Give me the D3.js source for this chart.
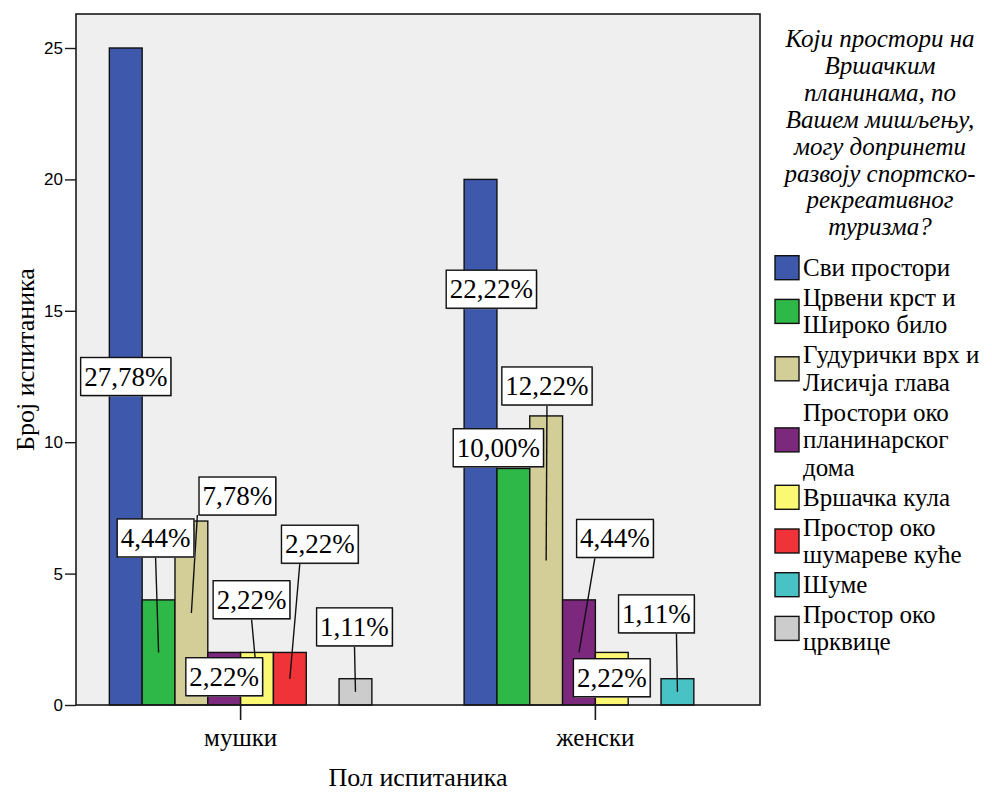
<!DOCTYPE html>
<html><head><meta charset="utf-8">
<script src="https://cdn.jsdelivr.net/npm/d3@7"></script>
<style>body{margin:0;background:#fff}</style>
</head><body><svg id="c" width="992" height="792"></svg>
<script>
// ---- data ----
const groups = ["мушки", "женски"];
const series = ["Сви простори", "Црвени крст и Широко било", "Гудурички врх и Лисичја глава",
  "Простори око планинарског дома", "Вршачка кула", "Простор око шумареве куће", "Шуме", "Простор око црквице"];
const legendLines = [["Сви простори"], ["Црвени крст и", "Широко било"], ["Гудурички врх и", "Лисичја глава"],
  ["Простори око", "планинарског", "дома"], ["Вршачка кула"], ["Простор око", "шумареве куће"], ["Шуме"], ["Простор око", "црквице"]];
const maleCounts = [25, 4, 7, 2, 2, 2, 0, 1];
const femaleCounts = [20, 9, 11, 4, 2, 0, 1, 0];
const yTicks = [0, 5, 10, 15, 20, 25];
const legendTitle = ["Који простори на", "Вршачким", "планинама, по", "Вашем мишљењу,", "могу допринети", "развоју спортско-", "рекреативног", "туризма?"];
const xTitle = "Пол испитаника";
const yTitle = "Број испитаника";

// ---- styles / layout ----
const colors = ["#3E58AC", "#2EB848", "#D3CE97", "#7B287D", "#FBF873", "#EF3338", "#48C2C5", "#CCCCCC"];
// label box offsets from bar middle [dx, dy, leaderAnchorX or null]
const labelLayout = [
  [[0, 0, null], [-3, -114.5, 0], [46, -117, -40], [0, -2, null], [-5.5, -79, 0], [30, -134.5, -20], null, [-1, -65, 0]],
  [[10.8, -153, null], [-15, -139, null], [0.8, -174.5, 0], [36, -114, -20], [0, -1, null], null, [-21, -78, 20], null]
];

const counts = [maleCounts, femaleCounts];
const total = d3.sum(maleCounts) + d3.sum(femaleCounts);
const pct = v => d3.format(".2f")(v / total * 100).replace(".", ",") + "%";

const L = 76, R = 760, T = 14, B = 705;
const SERIF = '"Liberation Serif"';
const SANS = '"Liberation Sans"';

const svg = d3.select("#c");
const x0 = d3.scaleBand().domain(groups).range([L, R]).paddingInner(0.26).paddingOuter(0.094);
const x1 = d3.scaleBand().domain(d3.range(series.length)).range([0, x0.bandwidth()]).padding(0);
const y = d3.scaleLinear().domain([0, 25 * (B - T) / (B - 48)]).range([B, T]);

// plot background
svg.append("rect").attr("x", L).attr("y", T).attr("width", R - L).attr("height", B - T)
  .attr("fill", "#EFEFEF");

// bars
const gBars = svg.append("g");
groups.forEach((g, gi) => {
  gBars.selectAll(null).data(counts[gi].map((v, si) => ({ v, si }))).enter()
    .filter(d => d.v > 0)
    .append("rect")
    .attr("x", d => x0(g) + x1(d.si))
    .attr("y", d => y(d.v))
    .attr("width", x1.bandwidth())
    .attr("height", d => y(0) - y(d.v))
    .attr("fill", d => colors[d.si])
    .attr("stroke", "#111").attr("stroke-width", 1.4);
});

// frame
svg.append("rect").attr("x", L).attr("y", T).attr("width", R - L).attr("height", B - T)
  .attr("fill", "none").attr("stroke", "#1a1a1a").attr("stroke-width", 1.6);

// y axis
const yAxis = svg.append("g").attr("transform", `translate(${L},0)`)
  .call(d3.axisLeft(y).tickValues(yTicks).tickSize(11).tickPadding(2));
yAxis.select(".domain").remove();
yAxis.selectAll("line").attr("stroke", "#1a1a1a").attr("stroke-width", 1.4);
yAxis.selectAll("text").style("font-family", SANS).style("font-size", "17px").attr("fill", "#000");

// x axis
const xAxis = svg.append("g").attr("transform", `translate(0,${B})`)
  .call(d3.axisBottom(x0).tickSize(15).tickPadding(8));
xAxis.select(".domain").remove();
xAxis.selectAll("line").attr("stroke", "#1a1a1a").attr("stroke-width", 1.6);
xAxis.selectAll("text").style("font-family", SERIF).style("font-size", "25px").attr("fill", "#000");

// axis titles
svg.append("text").attr("x", (L + R) / 2).attr("y", 786).attr("text-anchor", "middle")
  .style("font-family", SERIF).style("font-size", "26px").text(xTitle);
svg.append("text").attr("transform", `translate(34,${(T + B) / 2}) rotate(-90)`).attr("text-anchor", "middle")
  .style("font-family", SERIF).style("font-size", "26px").text(yTitle);

// labels
const gLead = svg.append("g");
const gLab = svg.append("g");
groups.forEach((g, gi) => {
  counts[gi].forEach((v, si) => {
    const lay = labelLayout[gi][si];
    if (!v || !lay) return;
    const bx = x0(g) + x1(si) + x1.bandwidth() / 2;
    const by = (y(0) + y(v)) / 2;
    const cx = bx + lay[0], cy = by + lay[1];
    const grp = gLab.append("g");
    const t = grp.append("text").attr("x", cx).attr("y", cy + 9).attr("text-anchor", "middle")
      .style("font-family", SERIF).style("font-size", "27px").text(pct(v));
    const w = t.node().getComputedTextLength() + 7, h = 38;
    grp.insert("rect", "text").attr("x", cx - w / 2 + 1).attr("y", cy - h / 2 + 1).attr("width", w).attr("height", h)
      .attr("fill", "#9a9a9a");
    grp.insert("rect", "text").attr("x", cx - w / 2).attr("y", cy - h / 2).attr("width", w).attr("height", h)
      .attr("fill", "#fff").attr("stroke", "#111").attr("stroke-width", 1.4);
    if (lay[2] !== null) {
      gLead.append("line").attr("x1", cx + lay[2]).attr("y1", cy + h / 2).attr("x2", bx).attr("y2", by)
        .attr("stroke", "#111").attr("stroke-width", 1.4);
    }
  });
});

// legend
const lg = svg.append("g");
const lcx = 880;
legendTitle.forEach((s, i) => {
  lg.append("text").attr("x", lcx).attr("y", 47 + i * 26.9).attr("text-anchor", "middle")
    .style("font-family", SERIF).style("font-style", "italic").style("font-size", "25px").text(s);
});
const lh = 27.4, gap = 2.6;
let cur = 255;
legendLines.forEach((lines, i) => {
  const hItem = lines.length * lh;
  const mid = cur + hItem / 2;
  lg.append("rect").attr("x", 775).attr("y", mid - 12 - 1).attr("width", 24).attr("height", 24)
    .attr("fill", colors[i]).attr("stroke", "#111").attr("stroke-width", 1.4);
  lines.forEach((s, j) => {
    lg.append("text").attr("x", 803).attr("y", cur + j * lh + 21)
      .style("font-family", SERIF).style("font-size", "25px").text(s);
  });
  cur += hItem + gap;
});
</script>
</body></html>
